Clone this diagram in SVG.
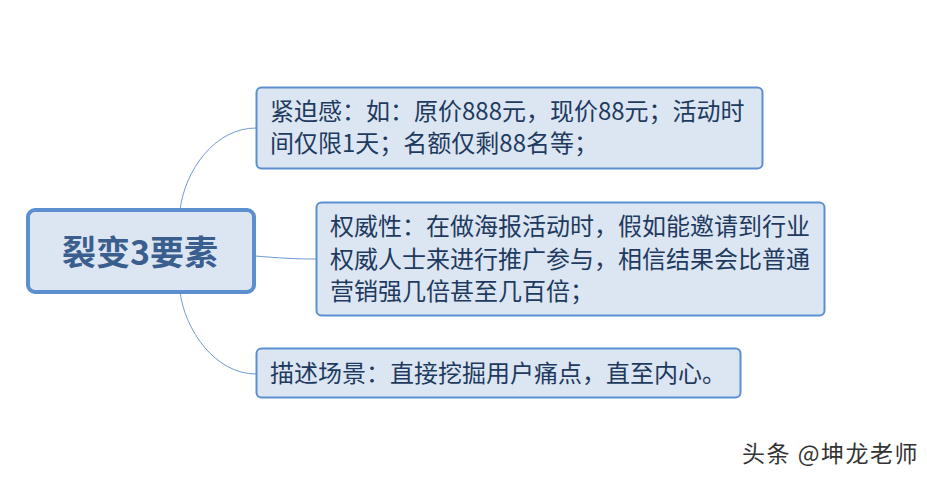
<svg xmlns="http://www.w3.org/2000/svg" width="927" height="480" viewBox="0 0 927 480">
<style>
.node rect{fill:#dce6f2;stroke:#5b8fd0;stroke-width:2}
.t{font-family:"Microsoft YaHei","Noto Sans CJK SC",sans-serif;font-size:24px;fill:#1f3a5f}
.edge{fill:none;stroke:#6f9bd6;stroke-width:1}
</style>
<rect width="927" height="480" fill="#ffffff"/>
<g id="connectors">
<path class="edge" d="M180,210 C185,170 215,128 256,128"/>
<path class="edge" d="M255,256 C280,258 295,259 316,259"/>
<path class="edge" d="M180,292 C185,330 215,374 256,374"/>
</g>
<g id="root" class="node">
<rect x="28" y="210" width="226" height="82" rx="7" style="stroke-width:4"/>
<text x="140" y="265" text-anchor="middle" class="t" style="font-size:34px;font-weight:bold;fill:#3a5f8f">裂变3要素</text>
</g>
<g id="n1" class="node">
<rect x="256.5" y="87.5" width="506" height="81" rx="5"/>
<text x="270" y="120" class="t">紧迫感：如：原价888元，现价88元；活动时</text>
<text x="270" y="152" class="t">间仅限1天；名额仅剩88名等；</text>
</g>
<g id="n2" class="node">
<rect x="316.5" y="202.5" width="508" height="113" rx="5"/>
<text x="330" y="235" class="t">权威性：在做海报活动时，假如能邀请到行业</text>
<text x="330" y="268" class="t">权威人士来进行推广参与，相信结果会比普通</text>
<text x="330" y="300" class="t">营销强几倍甚至几百倍；</text>
</g>
<g id="n3" class="node">
<rect x="256.5" y="348.5" width="484" height="49" rx="5"/>
<text x="270" y="382" class="t">描述场景：直接挖掘用户痛点，直至内心。</text>
</g>
<text x="742" y="462" style="font-family:'Noto Sans CJK SC',sans-serif;font-size:23px;letter-spacing:1.5px;fill:#333333">头条 @坤龙老师</text>
</svg>
